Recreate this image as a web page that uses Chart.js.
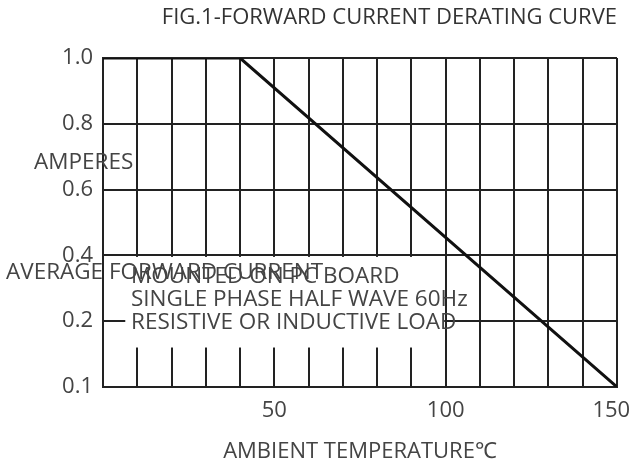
<!DOCTYPE html>
<html>
<head>
<meta charset="utf-8">
<script src="https://cdn.jsdelivr.net/npm/chart.js"></script>
<style>
  html, body { margin: 0; padding: 0; background: #fff; }
  #wrap { width: 631px; height: 467px; }
</style>
</head>
<body>
<div id="wrap"><canvas id="derating"></canvas></div>
<script>
// ambient temperature (C) and average forward current (A) of the curve
const tempPoints = [0, 40, 150];
const currentPoints = [1.0, 1.0, 0.1];

// y axis is drawn with evenly spaced, non-linear labels
const yTickLabels = ['0.1', '0.2', '0.4', '0.6', '0.8', '1.0'];
const yTickValues = [0.1, 0.2, 0.4, 0.6, 0.8, 1.0];
const xLabelled = [50, 100, 150];

const boxLines = ['MOUNTED ON PC BOARD', 'SINGLE PHASE HALF WAVE 60Hz', 'RESISTIVE OR INDUCTIVE LOAD'];

// value in amperes -> position on the evenly spaced y axis
function toPos(v) {
  for (let i = 0; i < yTickValues.length - 1; i++) {
    const a = yTickValues[i], b = yTickValues[i + 1];
    if (v <= b) return i + (v - a) / (b - a);
  }
  return yTickValues.length - 1;
}

const FONT = "'Open Sans', sans-serif";
const TEXT = '#444';
const LINE = '#222';

// blank the grid behind the note text, then draw the loose labels
const notePlugin = {
  id: 'notes',
  beforeDatasetsDraw(chart) {
    const { ctx } = chart;
    const xs = chart.scales.x, ys = chart.scales.y;
    const left = xs.getPixelForValue(6.5);
    const right = xs.getPixelForValue(100) - 1.5;
    const top = ys.getPixelForValue(toPos(0.4)) + 1.5;
    const bottom = ys.getPixelForValue(0.6);
    ctx.save();
    ctx.fillStyle = '#fff';
    ctx.fillRect(left, top, right - left, bottom - top);
    ctx.restore();
  },
  afterDraw(chart) {
    const { ctx } = chart;
    ctx.save();
    ctx.fillStyle = TEXT;
    ctx.font = '22.5px ' + FONT;
    ctx.textBaseline = 'middle';
    ctx.textAlign = 'left';
    ctx.fillText('AMPERES', 34, 163);
    ctx.fillText('AVERAGE FORWARD CURRENT', 6, 273);
    boxLines.forEach((t, i) => ctx.fillText(t, 131, 277 + i * 23));
    ctx.restore();
  }
};

new Chart(document.getElementById('derating'), {
  type: 'line',
  data: {
    datasets: [{
      data: tempPoints.map((t, i) => ({ x: t, y: toPos(currentPoints[i]) })),
      borderColor: '#111',
      borderWidth: 3,
      pointRadius: 0,
      tension: 0,
      fill: false
    }]
  },
  options: {
    responsive: true,
    maintainAspectRatio: false,
    animation: false,
    layout: { padding: { left: 0, right: 14, top: 0, bottom: 0 } },
    plugins: {
      legend: { display: false },
      tooltip: { enabled: false },
      title: {
        display: true,
        text: 'FIG.1-FORWARD CURRENT DERATING CURVE',
        align: 'end',
        color: '#333',
        font: { family: FONT, size: 22, weight: 'normal', lineHeight: 1.2 },
        padding: { top: 5, bottom: 26.6 }
      }
    },
    scales: {
      x: {
        type: 'linear',
        min: 0,
        max: 150,
        afterFit: s => { s.height = 80; s.paddingRight = 0; },
        grid: { color: LINE, lineWidth: 2, drawTicks: false },
        border: { color: LINE, width: 2 },
        ticks: {
          stepSize: 10,
          autoSkip: false,
          maxRotation: 0,
          padding: 11,
          color: TEXT,
          font: { family: FONT, size: 22 },
          // last label sits a little left of its grid line
          callback: v => xLabelled.includes(v) ? (v === 150 ? '150\u00a0\u00a0' : String(v)) : ''
        },
        title: {
          display: true,
          text: 'AMBIENT TEMPERATURE\u2103',
          color: TEXT,
          font: { family: FONT, size: 22 },
          padding: { top: 0, bottom: 2 }
        }
      },
      y: {
        type: 'linear',
        min: 0,
        max: yTickLabels.length - 1,
        afterFit: s => { s.width = 103; },
        grid: { color: LINE, lineWidth: 2, drawTicks: false },
        border: { color: LINE, width: 2 },
        ticks: {
          stepSize: 1,
          padding: 10,
          color: TEXT,
          font: { family: FONT, size: 22 },
          callback: v => yTickLabels[v]
        }
      }
    }
  },
  plugins: [notePlugin]
});
</script>
</body>
</html>
